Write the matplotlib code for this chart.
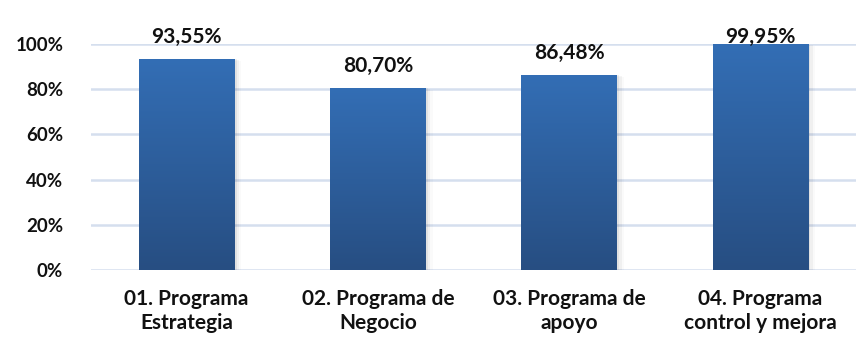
import matplotlib
matplotlib.use("Agg")
import matplotlib.pyplot as plt
import numpy as np
from matplotlib.colors import LinearSegmentedColormap
from matplotlib.patches import Rectangle

categories = ["01. Programa\nEstrategia", "02. Programa de\nNegocio", "03. Programa de\napoyo", "04. Programa\ncontrol y mejora"]
values = [93.55, 80.70, 86.48, 99.95]
yticks = [0, 20, 40, 60, 80, 100]
ytick_labels = ["0%", "20%", "40%", "60%", "80%", "100%"]

plt.rcParams['font.family'] = ['Lato', 'DejaVu Sans']

fig = plt.figure(figsize=(8.56, 3.49), dpi=100)
ax = fig.add_axes([91/856, 1-270/349, 1-91/856, (270-44)/349])

x = np.arange(len(categories))
bars = ax.bar(x, values, width=0.5, color="none", zorder=3)
cmap = LinearSegmentedColormap.from_list("g", ["#274E82", "#336EB5"])
grad = np.linspace(0, 1, 256).reshape(-1, 1)
for b in bars:
    x0, w, h = b.get_x(), b.get_width(), b.get_height()
    for i, a in enumerate([0.06, 0.04, 0.02]):
        sh = Rectangle((x0 + 0.012*(i+1), 0), w, h - 0.3*(i+1), facecolor="black", alpha=a, lw=0, zorder=2)
        ax.add_patch(sh)
    im = ax.imshow(grad, extent=[x0, x0+w, 0, h], origin="lower", aspect="auto", cmap=cmap, zorder=3)
    im.set_clip_path(b)

for xi, v in zip(x, values):
    ypos = min(v + 9.6, 103.2)
    ax.text(xi, ypos, f"{v:.2f}%".replace(".", ","), ha="center", va="center",
            fontsize=15, fontweight="bold", color="#111111", clip_on=False, zorder=5)

ax.set_xlim(-0.5, len(categories) - 0.5)
ax.set_ylim(0, 100)
ax.set_yticks(yticks)
ax.set_yticklabels(ytick_labels)
ax.set_xticks(x)
ax.set_xticklabels(categories, linespacing=1.25)
ax.yaxis.grid(True, color="#D5DFEE", linewidth=1.8, zorder=0)
ax.set_axisbelow(True)
for s in ax.spines.values():
    s.set_visible(False)
ax.tick_params(axis="both", length=0)
ax.tick_params(axis="y", pad=20, labelsize=13.5)
ax.tick_params(axis="x", pad=14, labelsize=15)
for lab in ax.get_xticklabels() + ax.get_yticklabels():
    lab.set_fontweight("bold")
    lab.set_color("#111111")

fig.savefig("out.png", dpi=100)
